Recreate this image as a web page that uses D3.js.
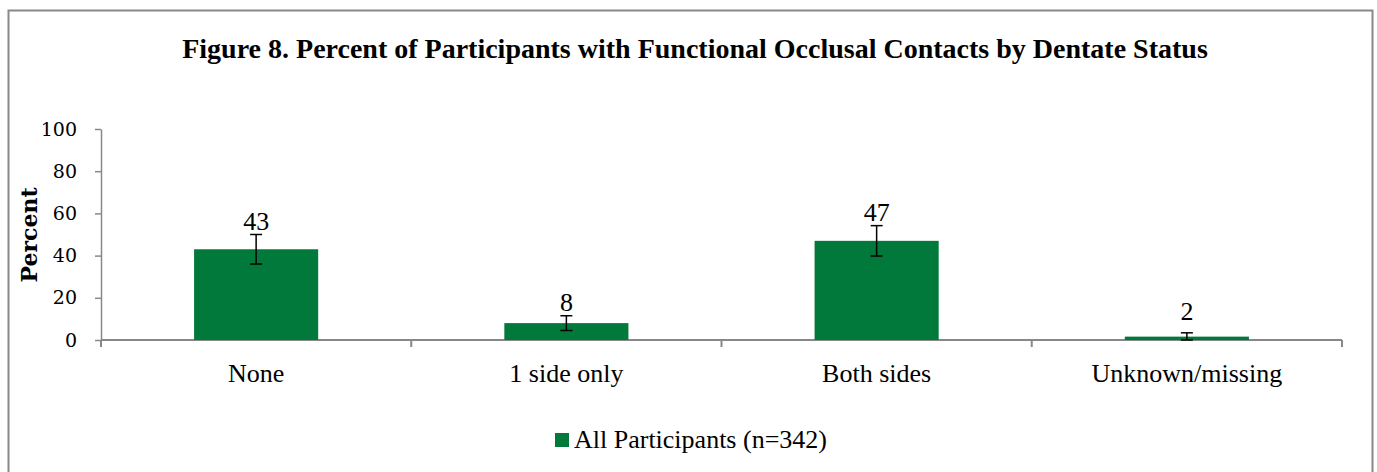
<!DOCTYPE html>
<html>
<head>
<meta charset="utf-8">
<script src="https://cdn.jsdelivr.net/npm/d3@7"></script>
<style>
  body { margin: 0; background: #fff; }
</style>
</head>
<body>
<script>
// chart data
var categories = ["None", "1 side only", "Both sides", "Unknown/missing"];
var values = [43, 8, 47, 1.6];
var labels = ["43", "8", "47", "2"];
var errors = [7, 3.5, 7.2, 1.8];
var yTicks = [0, 20, 40, 60, 80, 100];
var seriesName = "All Participants (n=342)";

var w = 1377, h = 472;
var green = "#00793a";

var svg = d3.select("body").append("svg")
    .attr("width", w)
    .attr("height", h);

// outer frame
svg.append("rect")
    .attr("x", 8.5).attr("y", 10.5)
    .attr("width", 1364).attr("height", 480)
    .attr("fill", "#fff")
    .attr("stroke", "#888")
    .attr("stroke-width", 2);

svg.append("text")
    .attr("x", 695).attr("y", 58)
    .attr("text-anchor", "middle")
    .style("font-family", "Liberation Serif")
    .style("font-weight", "bold")
    .style("font-size", "28px")
    .text("Figure 8. Percent of Participants with Functional Occlusal Contacts by Dentate Status");

var margin = {left: 101, top: 129, right: 35};
var plotW = 1342 - margin.left;
var plotH = 340 - margin.top;

var x = d3.scaleBand().domain(categories).range([0, plotW]);
var y = d3.scaleLinear().domain([0, 100]).range([plotH, 0]);

var g = svg.append("g").attr("transform", "translate(" + margin.left + "," + margin.top + ")");

// y axis
var yAxis = g.append("g")
    .call(d3.axisLeft(y).tickValues(yTicks).tickSize(6).tickSizeOuter(0).tickPadding(18));
yAxis.selectAll("text")
    .style("font-family", "DejaVu Serif")
    .style("font-size", "19px")
    .attr("fill", "#000");
yAxis.selectAll("line, path").attr("stroke", "#888").attr("stroke-width", 1.5);

// x axis with ticks between categories
var xAxis = g.append("g").attr("transform", "translate(0," + plotH + ")");
xAxis.append("line")
    .attr("x1", 0).attr("x2", plotW)
    .attr("stroke", "#888").attr("stroke-width", 2);
xAxis.selectAll(".sep")
    .data(d3.range(categories.length + 1))
    .enter().append("line")
    .attr("x1", i => i * x.step()).attr("x2", i => i * x.step())
    .attr("y1", 0).attr("y2", 7)
    .attr("stroke", "#888").attr("stroke-width", 2);
xAxis.selectAll(".cat")
    .data(categories)
    .enter().append("text")
    .attr("x", d => x(d) + x.bandwidth() / 2)
    .attr("y", 42)
    .attr("text-anchor", "middle")
    .style("font-family", "Liberation Serif")
    .style("font-size", "26px")
    .text(d => d);

// bars
var barW = x.bandwidth() * 0.4;
g.selectAll(".bar")
    .data(values)
    .enter().append("rect")
    .attr("class", "bar")
    .attr("x", (d, i) => x(categories[i]) + (x.bandwidth() - barW) / 2)
    .attr("y", d => y(d))
    .attr("width", barW)
    .attr("height", d => plotH - y(d))
    .attr("fill", green);

// error bars
var eb = g.selectAll(".err")
    .data(values)
    .enter().append("g")
    .attr("transform", (d, i) => "translate(" + (x(categories[i]) + x.bandwidth() / 2) + ",0)");
eb.append("line")
    .attr("y1", (d, i) => y(d + errors[i]))
    .attr("y2", (d, i) => y(Math.max(0, d - errors[i])))
    .attr("stroke", "#000").attr("stroke-width", 1.5);
eb.append("line")
    .attr("x1", -6).attr("x2", 6)
    .attr("y1", (d, i) => y(d + errors[i])).attr("y2", (d, i) => y(d + errors[i]))
    .attr("stroke", "#000").attr("stroke-width", 1.5);
eb.append("line")
    .attr("x1", -6).attr("x2", 6)
    .attr("y1", (d, i) => y(Math.max(0, d - errors[i]))).attr("y2", (d, i) => y(Math.max(0, d - errors[i])))
    .attr("stroke", "#000").attr("stroke-width", 1.5);

// value labels
eb.append("text")
    .attr("y", (d, i) => y(d + errors[i]) - 5 - (i == 3 ? 8 : 0))
    .attr("text-anchor", "middle")
    .style("font-family", "Liberation Serif")
    .style("font-size", "26px")
    .text((d, i) => labels[i]);

// y label
svg.append("text")
    .attr("transform", "translate(37,235) rotate(-90)")
    .attr("text-anchor", "middle")
    .style("font-family", "DejaVu Serif")
    .style("font-weight", "bold")
    .style("font-size", "22px")
    .text("Percent");

// legend
svg.append("rect")
    .attr("x", 555).attr("y", 433)
    .attr("width", 14).attr("height", 14)
    .attr("fill", green);
svg.append("text")
    .attr("x", 574).attr("y", 448)
    .style("font-family", "Liberation Serif")
    .style("font-size", "26px")
    .text(seriesName);
</script>
</body>
</html>
